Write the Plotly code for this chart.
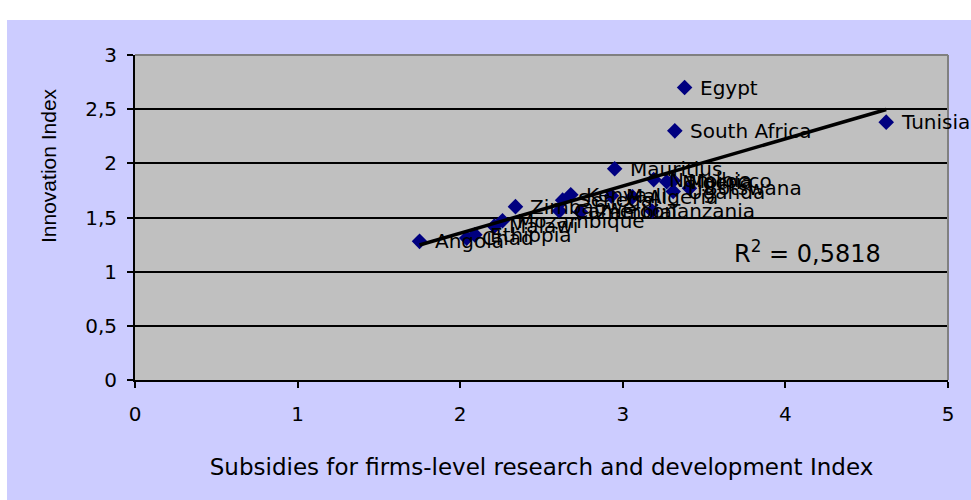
import numpy as np
import plotly.graph_objects as go

countries = ["Angola", "Chad", "Ethiopia", "Malawi", "Mozambique", "Zimbabwe",
             "Cameroon", "Senegal", "Kenya", "Zambia", "Mali", "Mauritius",
             "Algeria", "Tanzania", "Namibia", "Nigeria", "Morocco", "Uganda",
             "Botswana", "Egypt", "South Africa", "Tunisia"]
subsidies = [1.75, 2.04, 2.09, 2.21, 2.26, 2.34,
             2.61, 2.63, 2.68, 2.74, 2.93, 2.95,
             3.06, 3.18, 3.19, 3.27, 3.31, 3.31,
             3.41, 3.38, 3.32, 4.62]
innovation = [1.28, 1.31, 1.34, 1.42, 1.47, 1.60,
              1.56, 1.66, 1.71, 1.55, 1.70, 1.95,
              1.69, 1.56, 1.85, 1.83, 1.84, 1.74,
              1.77, 2.70, 2.30, 2.38]
x_ticks = [0, 1, 2, 3, 4, 5]
y_ticks = [0, 0.5, 1, 1.5, 2, 2.5, 3]
r2_text = "R<sup>2</sup> = 0,5818"
y_title = "Innovation Index"
x_title = "Subsidies for firms-level research and development Index"

WIDE = "DejaVu Sans, Verdana, sans-serif"
ARIAL = "Liberation Sans, Arial, sans-serif"

xa = np.array(subsidies)
ya = np.array(innovation)
slope, intercept = np.polyfit(xa, ya, 1)
xl = np.array([xa.min(), xa.max()])
yl = slope * xl + intercept

fig = go.Figure()
fig.add_trace(go.Scatter(x=subsidies, y=innovation, mode="markers",
                         marker=dict(symbol="diamond", size=12, color="#000080"),
                         showlegend=False, hoverinfo="skip"))
fig.add_trace(go.Scatter(x=xl, y=yl, mode="lines",
                         line=dict(color="black", width=3.5),
                         showlegend=False, hoverinfo="skip"))

W, H = 971, 500
ML, MR, MT, MB = 135, 23, 55, 120
dom_w = W - ML - MR
dom_h = H - MT - MB

annotations = []
for c, xv, yv in zip(countries, subsidies, innovation):
    annotations.append(dict(x=xv, y=yv, xref="x", yref="y", text=c,
                            showarrow=False, xanchor="left", yanchor="middle",
                            xshift=13, font=dict(family=WIDE, size=20, color="black")))
annotations.append(dict(x=3.67, y=1.18, xref="x", yref="y", text=r2_text,
                        showarrow=False, xanchor="left", yanchor="middle",
                        font=dict(family=WIDE, size=24, color="black")))
annotations.append(dict(x=(48 - ML) / dom_w, y=(H - MB - 166) / dom_h,
                        xref="paper", yref="paper", text=y_title, textangle=-90,
                        showarrow=False, xanchor="center", yanchor="middle",
                        font=dict(family=ARIAL, size=21, color="black")))

top_white = 1 + (MT - 20) / dom_h
left_white = -(ML - 7) / dom_w

shapes = [
    dict(type="rect", xref="paper", yref="paper", x0=-0.3, x1=1.3, y0=top_white, y1=1.5,
         fillcolor="white", line=dict(width=0), layer="below"),
    dict(type="rect", xref="paper", yref="paper", x0=-0.3, x1=left_white, y0=-0.5, y1=1.5,
         fillcolor="white", line=dict(width=0), layer="below"),
    dict(type="line", xref="paper", yref="paper", x0=0, x1=1, y0=1, y1=1,
         line=dict(color="#808080", width=2)),
    dict(type="line", xref="paper", yref="paper", x0=1, x1=1, y0=0, y1=1,
         line=dict(color="#808080", width=2)),
]

fig.update_layout(
    width=W, height=H,
    margin=dict(l=ML, r=MR, t=MT, b=MB, autoexpand=False),
    paper_bgcolor="#CCCCFF", plot_bgcolor="#C0C0C0",
    separators=",.",
    font=dict(family=WIDE, size=20, color="black"),
    annotations=annotations, shapes=shapes,
    xaxis=dict(range=[0, 5], tickvals=x_ticks, showgrid=False, zeroline=False,
               showline=True, linecolor="black", linewidth=2,
               ticks="outside", ticklen=6, tickcolor="black", tickwidth=2,
               ticklabelstandoff=9,
               tickfont=dict(family=WIDE, size=20),
               title=dict(text=x_title, font=dict(family=WIDE, size=23), standoff=34)),
    yaxis=dict(range=[0, 3], tickvals=y_ticks, showgrid=True, gridcolor="black",
               gridwidth=2, zeroline=False,
               showline=True, linecolor="black", linewidth=2,
               ticks="outside", ticklen=6, tickcolor="black", tickwidth=2,
               ticklabelstandoff=6,
               tickfont=dict(family=WIDE, size=20)),
)

fig.write_html("out.html", config={"displayModeBar": False},
               post_script="document.body.style.margin='0px';document.body.style.overflow='hidden';")
